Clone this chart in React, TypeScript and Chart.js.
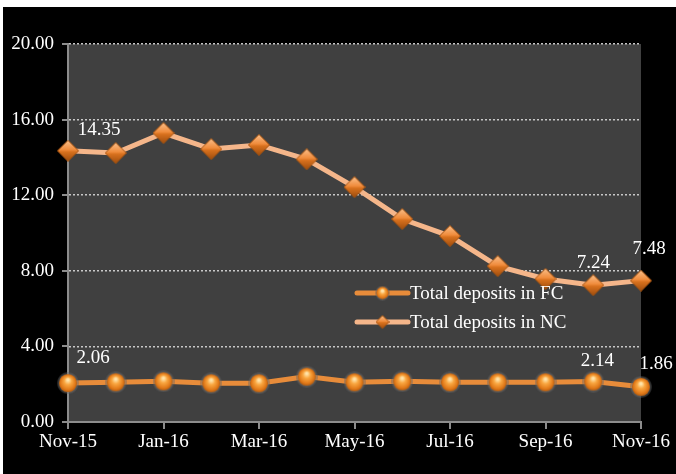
import React, { useEffect, useRef } from "react";
import { Chart, registerables } from "chart.js";

Chart.register(...registerables);

const months = ["Nov-15","Dec-15","Jan-16","Feb-16","Mar-16","Apr-16","May-16","Jun-16","Jul-16","Aug-16","Sep-16","Oct-16","Nov-16"];
const fcValues = [2.06, 2.1, 2.15, 2.05, 2.05, 2.4, 2.1, 2.15, 2.1, 2.1, 2.1, 2.14, 1.86];
const ncValues = [14.35, 14.23, 15.29, 14.44, 14.66, 13.9, 12.43, 10.74, 9.84, 8.25, 7.57, 7.24, 7.48];
const fcLabelIdx = [0, 11, 12];
const ncLabelIdx = [0, 11, 12];
const seriesNames = ["Total deposits in FC", "Total deposits in NC"];
const yTicks = [0, 4, 8, 12, 16, 20];

const FONT = "'Liberation Serif', 'Times New Roman', serif";

function makeDiamond(size: number) {
  const c = document.createElement("canvas");
  c.width = size; c.height = size;
  const g = c.getContext("2d")!;
  const h = size / 2;
  g.beginPath();
  g.moveTo(h, 0.5); g.lineTo(size - 0.5, h); g.lineTo(h, size - 0.5); g.lineTo(0.5, h); g.closePath();
  const grad = g.createLinearGradient(0, 0, 0, size);
  grad.addColorStop(0, "#fbc390");
  grad.addColorStop(0.45, "#f08c3c");
  grad.addColorStop(0.55, "#d8711e");
  grad.addColorStop(1, "#9a4a0c");
  g.fillStyle = grad;
  g.fill();
  g.strokeStyle = "#a6530f";
  g.lineWidth = 1;
  g.stroke();
  return c;
}

function makeBall(size: number) {
  const c = document.createElement("canvas");
  c.width = size; c.height = size;
  const g = c.getContext("2d")!;
  const h = size / 2;
  const ring = g.createRadialGradient(h, h, h * 0.6, h, h, h);
  ring.addColorStop(0, "rgba(150,150,150,0.9)");
  ring.addColorStop(1, "rgba(90,90,90,0.3)");
  g.beginPath(); g.arc(h, h, h, 0, Math.PI * 2); g.fillStyle = ring; g.fill();
  const grad = g.createRadialGradient(h, h * 0.7, 1, h, h, h * 0.82);
  grad.addColorStop(0, "#ffe3a8");
  grad.addColorStop(0.35, "#f9a640");
  grad.addColorStop(0.8, "#e07818");
  grad.addColorStop(1, "#b25c10");
  g.beginPath(); g.arc(h, h, h * 0.82, 0, Math.PI * 2); g.fillStyle = grad; g.fill();
  return c;
}

const NC_LINE = "#f5b68a";
const FC_LINE = "#e88c3a";

export default function App() {
  const ref = useRef<HTMLCanvasElement | null>(null);
  useEffect(() => {
    if (!ref.current) return;
    const diamond = makeDiamond(22);
    const ball = makeBall(22);
    const diamondSmall = makeDiamond(14);
    const ballSmall = makeBall(15);

    const deco = {
      id: "deco",
      beforeDraw(chart: any) {
        const { ctx, chartArea: a } = chart;
        ctx.save();
        ctx.fillStyle = "#404040";
        ctx.fillRect(a.left, a.top, a.right - a.left, a.bottom - a.top);
        ctx.restore();
      },
      afterDraw(chart: any) {
        const { ctx, chartArea: a } = chart;
        const y = chart.scales.y;
        ctx.save();
        ctx.strokeStyle = "#8c8c8c";
        ctx.lineWidth = 2;
        yTicks.forEach((v) => {
          const py = Math.round(y.getPixelForValue(v));
          ctx.beginPath();
          ctx.moveTo(a.left - 6, py);
          ctx.lineTo(a.left, py);
          ctx.stroke();
        });
        // data labels
        ctx.fillStyle = "#ffffff";
        ctx.font = `19px ${FONT}`;
        ctx.textAlign = "center";
        ctx.textBaseline = "middle";
        const fcMeta = chart.getDatasetMeta(0);
        const ncMeta = chart.getDatasetMeta(1);
        const fcOff: Record<number, [number, number]> = { 0: [25, -25], 11: [4, -21], 12: [15, -23] };
        const ncOff: Record<number, [number, number]> = { 0: [31, -21], 11: [0, -22], 12: [8, -32] };
        fcLabelIdx.forEach((i) => {
          const p = fcMeta.data[i];
          const o = fcOff[i];
          ctx.fillText(fcValues[i].toFixed(2), p.x + o[0], p.y + o[1]);
        });
        ncLabelIdx.forEach((i) => {
          const p = ncMeta.data[i];
          const o = ncOff[i];
          ctx.fillText(ncValues[i].toFixed(2), p.x + o[0], p.y + o[1]);
        });
        // legend
        const lx0 = 354, lx1 = 405, tx = 407;
        const rows = [
          { y: 286, color: FC_LINE, img: ballSmall, name: seriesNames[0] },
          { y: 315, color: NC_LINE, img: diamondSmall, name: seriesNames[1] },
        ];
        ctx.textAlign = "left";
        rows.forEach((r) => {
          ctx.strokeStyle = r.color;
          ctx.lineWidth = 5;
          ctx.lineCap = "round";
          ctx.beginPath();
          ctx.moveTo(lx0, r.y);
          ctx.lineTo(lx1, r.y);
          ctx.stroke();
          ctx.drawImage(r.img, (lx0 + lx1) / 2 - r.img.width / 2, r.y - r.img.height / 2);
          ctx.fillStyle = "#ffffff";
          ctx.fillText(r.name, tx, r.y + 1);
        });
        ctx.restore();
      },
    };

    const chart = new Chart(ref.current, {
      type: "line",
      data: {
        labels: months,
        datasets: [
          {
            label: seriesNames[0],
            data: fcValues,
            borderColor: FC_LINE,
            borderWidth: 5,
            pointStyle: ball as any,
            pointRadius: 11,
            tension: 0,
          },
          {
            label: seriesNames[1],
            data: ncValues,
            borderColor: NC_LINE,
            borderWidth: 5,
            pointStyle: diamond as any,
            pointRadius: 11,
            tension: 0,
          },
        ],
      },
      options: {
        responsive: false,
        animation: false,
        devicePixelRatio: 1,
        layout: { padding: { left: 0, top: 37, right: 35, bottom: 0 } },
        plugins: { legend: { display: false }, tooltip: { enabled: false } },
        scales: {
          x: {
            type: "category",
            offset: false,
            grid: {
              drawOnChartArea: false,
              drawTicks: true,
              tickLength: 7,
              lineWidth: 2,
              color: (c: any) => (c.index % 2 === 0 ? "#8c8c8c" : "rgba(0,0,0,0)"),
            },
            border: { color: "#8c8c8c", width: 2 },
            ticks: {
              autoSkip: false,
              maxRotation: 0,
              color: "#ffffff",
              font: { family: FONT, size: 19 },
              padding: 2,
              callback: (_v: any, i: number) => (i % 2 === 0 ? months[i] : ""),
            },
            afterFit: (s: any) => { s.height = 52; },
          },
          y: {
            min: 0,
            max: 20,
            grid: {
              drawTicks: false,
              color: "#c8c8c8",
              lineWidth: 1.5,
            },
            border: { color: "#8c8c8c", width: 2, dash: [2, 2] },
            ticks: {
              stepSize: 4,
              color: "#ffffff",
              font: { family: FONT, size: 19 },
              padding: 14,
              callback: (v: any) => Number(v).toFixed(2),
            },
            afterFit: (s: any) => { s.width = 65; },
          },
        },
      },
      plugins: [deco],
    });
    return () => chart.destroy();
  }, []);

  return (
    <div style={{ position: "absolute", left: 0, top: 0, width: 676, height: 474, background: "#ffffff" }}>
      <div style={{ position: "absolute", left: 3, top: 7, width: 673, height: 467, background: "#000000" }}>
        <canvas ref={ref} width={673} height={467} style={{ display: "block" }} />
      </div>
    </div>
  );
}
